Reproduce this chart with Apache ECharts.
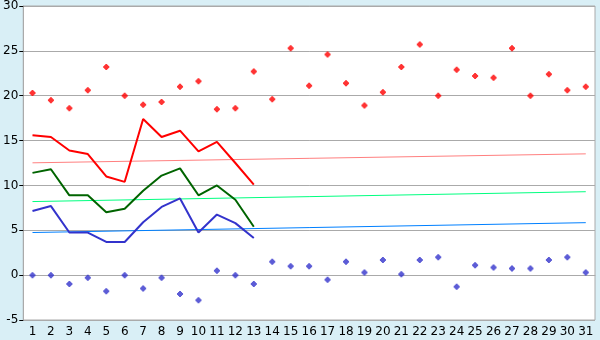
<!DOCTYPE html>
<html><head><meta charset="utf-8">
<script src="https://cdn.jsdelivr.net/npm/echarts@6/dist/echarts.min.js"></script>
<style>html,body{margin:0;padding:0;background:#d9eff6;}#c{width:600px;height:340px;}</style>
</head><body><div id="c"></div>
<script>
const categories = ['1','2','3','4','5','6','7','8','9','10','11','12','13','14','15','16','17','18','19','20','21','22','23','24','25','26','27','28','29','30','31'];
const redDots = [20.3,19.5,18.6,20.6,23.2,20.0,19.0,19.3,21.0,21.6,18.5,18.6,22.7,19.6,25.3,21.1,24.6,21.4,18.9,20.4,23.2,25.7,20.0,22.9,22.2,22.0,25.3,20.0,22.4,20.6,21.0];
const blueDots = [0,0,-1.0,-0.3,-1.8,0,-1.5,-0.3,-2.1,-2.8,0.5,0,-1.0,1.5,1.0,1.0,-0.5,1.5,0.3,1.7,0.1,1.7,2.0,-1.3,1.1,0.85,0.75,0.75,1.7,2.0,0.3];
const redLine = [15.6,15.4,13.9,13.5,11.0,10.4,17.4,15.4,16.1,13.8,14.85,12.5,10.1];
const greenLine = [11.4,11.8,8.9,8.9,7.0,7.4,9.4,11.1,11.9,8.9,10.0,8.4,5.4];
const blueLine = [7.15,7.7,4.75,4.75,3.7,3.7,5.9,7.6,8.55,4.75,6.75,5.8,4.15];
const pinkTrend = [12.52,13.52];
const greenTrend = [8.2,9.3];
const blueTrend = [4.75,5.85];
const yTicks = {min:-5,max:30,interval:5};

const plus = 'path://M2,0h2v1h1v1h1v2h-1v1h-1v1h-2v-1h-1v-1h-1v-2h1v-1h1z';
const trend = (v)=>[[categories[0],v[0]],[categories[categories.length-1],v[1]]];
const chart = echarts.init(document.getElementById('c'));
const font = 'DejaVu Sans';
chart.setOption({
  backgroundColor:'#d9eff6',
  animation:false,
  grid:{left:20,right:5,top:5,bottom:20,show:true,backgroundColor:'#fff',borderColor:'#aaa',borderWidth:1},
  xAxis:{type:'category',data:categories,boundaryGap:true,
    axisLine:{lineStyle:{color:'#aaa'}},
    axisTick:{alignWithLabel:true,length:5,lineStyle:{color:'#000'}},
    axisLabel:{color:'#000',fontFamily:font,fontSize:12,margin:6,interval:0}},
  yAxis:{type:'value',min:yTicks.min,max:yTicks.max,interval:yTicks.interval,
    axisLine:{show:true,lineStyle:{color:'#aaa'}},
    axisTick:{show:true,length:4,lineStyle:{color:'#000'}},
    splitLine:{lineStyle:{color:'#aaa'}},
    axisLabel:{color:'#000',fontFamily:font,fontSize:12,margin:5}},
  series:[
    {type:'line',data:trend(pinkTrend),symbol:'none',lineStyle:{color:'#ff8080',width:1}},
    {type:'line',data:trend(greenTrend),symbol:'none',lineStyle:{color:'#00ff80',width:1}},
    {type:'line',data:trend(blueTrend),symbol:'none',lineStyle:{color:'#0080ff',width:1}},
    {type:'line',data:redLine,symbol:'none',lineStyle:{color:'#ff0000',width:2}},
    {type:'line',data:greenLine,symbol:'none',lineStyle:{color:'#006400',width:2}},
    {type:'line',data:blueLine,symbol:'none',lineStyle:{color:'#3333cc',width:2}},
    {type:'scatter',data:redDots,symbol:plus,symbolSize:6,itemStyle:{color:'#ff0000'}},
    {type:'scatter',data:blueDots,symbol:plus,symbolSize:6,itemStyle:{color:'#3333cc'}}
  ]
});
</script></body></html>
